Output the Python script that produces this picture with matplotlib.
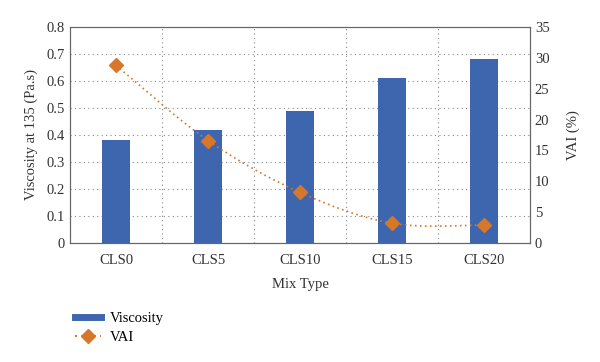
import matplotlib.pyplot as plt
from matplotlib.lines import Line2D
from matplotlib.path import Path
from matplotlib.patches import PathPatch
import numpy as np

categories = ['CLS0', 'CLS5', 'CLS10', 'CLS15', 'CLS20']
viscosity = [0.38, 0.42, 0.49, 0.61, 0.68]
vai = [28.8, 16.6, 8.2, 3.2, 2.9]

blue = '#3E66AE'
orange = '#D6772B'
plt.rcParams['font.family'] = ['Liberation Serif']
plt.rcParams['font.size'] = 10.5

fig = plt.figure(figsize=(6, 3.62), dpi=100)
ax = fig.add_axes([70/600, 1-243/362, 460/600, 216/362])
x = np.arange(len(categories))

ax.bar(x, viscosity, width=0.31, color=blue, zorder=3)
ax.set_xlim(-0.5, len(categories)-0.5)
ax.set_ylim(0, 0.8)
ax.set_yticks(np.arange(0, 0.81, 0.1))
ax.set_yticklabels(['0'] + ['%.1f' % v for v in np.arange(0.1, 0.81, 0.1)])
ax.set_xticks(x)
ax.set_xticklabels(categories)
ax.set_xticks(np.arange(0.5, len(categories)-0.5), minor=True)
ax.tick_params(which='both', length=0, colors='#333333')
ax.tick_params(axis='x', pad=8)
ax.grid(axis='y', which='major', linestyle=(0, (1, 3)), color='#888888', lw=0.8)
ax.grid(axis='x', which='minor', linestyle=(0, (1, 3)), color='#888888', lw=0.8)
for s in ax.spines.values():
    s.set_color('#666666')
ax.set_ylabel('Viscosity at 135 (Pa.s)', color='#333333', labelpad=6)
ax.set_xlabel('Mix Type', color='#333333', labelpad=8)

ax2 = ax.twinx()
# smoothed line through the points (catmull-rom style bezier)
pts = np.column_stack([x, vai]).astype(float)
verts = [pts[0]]
codes = [Path.MOVETO]
n = len(pts)
for i in range(n - 1):
    p0 = pts[max(i - 1, 0)]
    p1 = pts[i]
    p2 = pts[i + 1]
    p3 = pts[min(i + 2, n - 1)]
    verts += [p1 + (p2 - p0) / 6, p2 - (p3 - p1) / 6, p2]
    codes += [Path.CURVE4] * 3
ax2.add_patch(PathPatch(Path(verts, codes), fill=False, edgecolor=orange,
                        lw=1.2, linestyle=(0, (1, 2)), zorder=4))
ax2.plot(x, vai, linestyle='none', color=orange, marker='D',
         markersize=7, zorder=5)
ax2.set_ylim(0, 35)
ax2.set_yticks(range(0, 36, 5))
ax2.tick_params(length=0, colors='#333333')
ax2.set_ylabel('VAI (%)', color='#333333', labelpad=12)
for s in ax2.spines.values():
    s.set_color('#666666')

handles = [Line2D([], [], color=blue, lw=5),
           Line2D([], [], color=orange, linestyle=(0, (1, 2)), marker='D', markersize=7)]
fig.legend(handles, ['Viscosity', 'VAI'], loc='upper left',
           bbox_to_anchor=(62/600, 1-299/362), frameon=False,
           handlelength=1.8, labelspacing=0.4, handletextpad=0.6)

fig.savefig('out.png', dpi=100)
